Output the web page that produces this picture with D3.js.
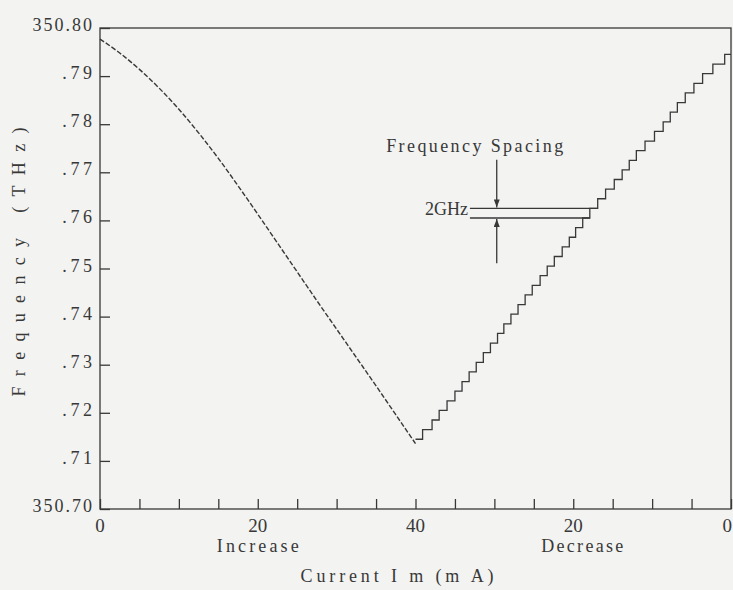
<!DOCTYPE html>
<html>
<head>
<meta charset="utf-8">
<script src="https://cdn.jsdelivr.net/npm/d3@7"></script>
<style>
  body { margin: 0; background: #f3f3f1; }
  svg { display: block; }
</style>
</head>
<body>
<div class="chart"></div>
<script>
// sweep: current goes 0 -> 40 mA (increase) then 40 -> 0 mA (decrease)
const incCurrent = [0, 2.5, 5, 7.5, 10, 12.5, 15, 17.5, 20, 22.5, 25, 27.5, 30, 32.5, 35, 37.5, 40];
const incFreq = [350.7977, 350.7948, 350.7914, 350.7875, 350.7831, 350.7782, 350.7729, 350.7672,
                 350.7613, 350.7553, 350.7493, 350.7433, 350.7374, 350.7315, 350.7256, 350.7196, 350.7136];

// decreasing current: staircase, current where each plateau starts and its frequency
const decCurrent = [40, 39.1, 37.9, 37.0, 36.0, 35.0, 34.1, 33.2, 32.3, 31.4, 30.5, 29.6, 28.8, 27.9,
                    27.0, 26.1, 25.2, 24.2, 23.3, 22.4, 21.4, 20.5, 19.7, 18.8, 17.9, 16.9, 15.9,
                    14.8, 13.8, 12.9, 12.0, 10.9, 9.7, 8.6, 7.7, 6.8, 5.8, 4.7, 3.6, 2.3, 0.8];
const decFreq = [350.7145, 350.7165, 350.7185, 350.7205, 350.7225, 350.7245, 350.7265, 350.7285,
                 350.7305, 350.7325, 350.7345, 350.7365, 350.7385, 350.7405, 350.7425, 350.7445,
                 350.7465, 350.7485, 350.7505, 350.7525, 350.7545, 350.7565, 350.7585, 350.7605,
                 350.7625, 350.7645, 350.7665, 350.7685, 350.7705, 350.7725, 350.7745, 350.7765,
                 350.7785, 350.7805, 350.7825, 350.7845, 350.7865, 350.7885, 350.7905, 350.7925,
                 350.7945];

const yTickValues = [350.70, 350.71, 350.72, 350.73, 350.74, 350.75, 350.76, 350.77, 350.78, 350.79, 350.80];
const yTickLabels = ["350.70", ".71", ".72", ".73", ".74", ".75", ".76", ".77", ".78", ".79", "350.80"];
const xTickValues = [0, 5, 10, 15, 20, 25, 30, 35, 40, 45, 50, 55, 60, 65, 70, 75, 80];
const xLabelValues = [0, 20, 40, 60, 80];
const xLabelText = ["0", "20", "40", "20", "0"];

const ink = "#383838";
const font = "'Liberation Serif', 'DejaVu Serif', serif";

const W = 733, H = 590;
const plot = {left: 100, right: 731, top: 28, bottom: 509};

const svg = d3.select(".chart").append("svg")
    .attr("width", W)
    .attr("height", H);

svg.append("rect").attr("width", W).attr("height", H).attr("fill", "#f3f3f1");

const x = d3.scaleLinear().domain([0, 80]).range([plot.left, plot.right]);
const y = d3.scaleLinear().domain([350.70, 350.80]).range([plot.bottom, plot.top]);

// frame
svg.append("rect")
    .attr("x", x(0)).attr("y", y(350.80))
    .attr("width", x(80) - x(0)).attr("height", y(350.70) - y(350.80))
    .attr("fill", "none").attr("stroke", ink).attr("stroke-width", 1.3);

// bottom axis, ticks pointing inward
const xAxis = d3.axisBottom(x).tickValues(xTickValues).tickSize(-10).tickFormat("");
svg.append("g")
    .attr("transform", "translate(0," + plot.bottom + ")")
    .call(xAxis)
    .call(g => g.select(".domain").remove())
    .call(g => g.selectAll("line").attr("stroke", ink).attr("stroke-width", 1.3));

// the last "0" sits on the right edge, keep it inside the page
svg.append("g")
    .selectAll("text")
    .data(xLabelValues)
    .enter()
    .append("text")
    .attr("x", (d, i) => i === xLabelValues.length - 1 ? W - 1 : x(d))
    .attr("y", plot.bottom + 23)
    .attr("text-anchor", (d, i) => i === xLabelValues.length - 1 ? "end" : "middle")
    .style("font-family", font)
    .style("font-size", "19px")
    .attr("fill", ink)
    .text((d, i) => xLabelText[i]);

// left axis
const yAxis = d3.axisLeft(y).tickValues(yTickValues).tickSize(-10).tickFormat("");
svg.append("g")
    .attr("transform", "translate(" + plot.left + ",0)")
    .call(yAxis)
    .call(g => g.select(".domain").remove())
    .call(g => g.selectAll("line").attr("stroke", ink).attr("stroke-width", 1.3));

svg.append("g")
    .selectAll("text")
    .data(yTickValues)
    .enter()
    .append("text")
    .attr("x", plot.left - 8)
    .attr("y", d => y(d) + 3)
    .attr("text-anchor", "end")
    .attr("textLength", (d, i) => yTickLabels[i].length * 9.9)
    .attr("lengthAdjust", "spacing")
    .style("font-family", font)
    .style("font-size", "18px")
    .attr("fill", ink)
    .text((d, i) => yTickLabels[i]);

// increasing current, dashed curve
const incPoints = incCurrent.map((c, i) => ({s: c, f: incFreq[i]}));
const incLine = d3.line()
    .x(d => x(d.s))
    .y(d => y(d.f))
    .curve(d3.curveMonotoneX);

svg.append("path")
    .datum(incPoints)
    .attr("d", incLine)
    .attr("fill", "none")
    .attr("stroke", ink)
    .attr("stroke-width", 1.4)
    .attr("stroke-dasharray", "5 2");

// decreasing current, staircase
const decPoints = decCurrent.map((c, i) => ({s: 80 - c, f: decFreq[i]}));
decPoints.push({s: 80, f: decFreq[decFreq.length - 1]});
const decLine = d3.line()
    .x(d => x(d.s))
    .y(d => y(d.f))
    .curve(d3.curveStepAfter);

svg.append("path")
    .datum(decPoints)
    .attr("d", decLine)
    .attr("fill", "none")
    .attr("stroke", ink)
    .attr("stroke-width", 1.3);

// frequency spacing annotation
const annStart = 46.9, arrowAt = 50.3;
const upperStep = 24, lowerStep = 23;

svg.append("defs").append("marker")
    .attr("id", "head")
    .attr("viewBox", "0 -3 8 6")
    .attr("refX", 8).attr("refY", 0)
    .attr("markerWidth", 8).attr("markerHeight", 6)
    .attr("markerUnits", "userSpaceOnUse")
    .attr("orient", "auto")
    .append("path")
    .attr("d", "M0,-3L8,0L0,3Z")
    .attr("fill", ink);

[upperStep, lowerStep].forEach(k => {
    svg.append("line")
        .attr("x1", x(annStart)).attr("x2", x(80 - decCurrent[k + 1]))
        .attr("y1", y(decFreq[k])).attr("y2", y(decFreq[k]))
        .attr("stroke", ink).attr("stroke-width", 1.3);
});

svg.append("line")
    .attr("x1", x(arrowAt)).attr("x2", x(arrowAt))
    .attr("y1", y(350.7726)).attr("y2", y(decFreq[upperStep]) - 1)
    .attr("stroke", ink).attr("stroke-width", 1.3)
    .attr("marker-end", "url(#head)");

svg.append("line")
    .attr("x1", x(arrowAt)).attr("x2", x(arrowAt))
    .attr("y1", y(350.7511)).attr("y2", y(decFreq[lowerStep]) + 1)
    .attr("stroke", ink).attr("stroke-width", 1.3)
    .attr("marker-end", "url(#head)");

const label = (txt, px, py, len, size, anchor) => svg.append("text")
    .attr("x", px).attr("y", py)
    .attr("text-anchor", anchor)
    .attr("textLength", len)
    .attr("lengthAdjust", "spacing")
    .style("font-family", font)
    .style("font-size", size + "px")
    .attr("fill", ink)
    .text(txt);

label("Frequency Spacing", x(47.5), y(350.7742), 177, 18, "middle");
label("2GHz", x(41.2), y(350.7611), 43, 18, "start");

// axis titles
label("Increase", x(20), plot.bottom + 43, 82, 18, "middle");
label("Decrease", x(60) + 9, plot.bottom + 43, 82, 18, "middle");
label("Current I m (m A)", 397, 582, 193, 18, "middle");

svg.append("text")
    .attr("transform", "translate(25,262) rotate(-90)")
    .attr("text-anchor", "middle")
    .attr("textLength", 269)
    .attr("lengthAdjust", "spacing")
    .style("font-family", font)
    .style("font-size", "18px")
    .attr("fill", ink)
    .text("Frequency (THz)");
</script>
</body>
</html>
